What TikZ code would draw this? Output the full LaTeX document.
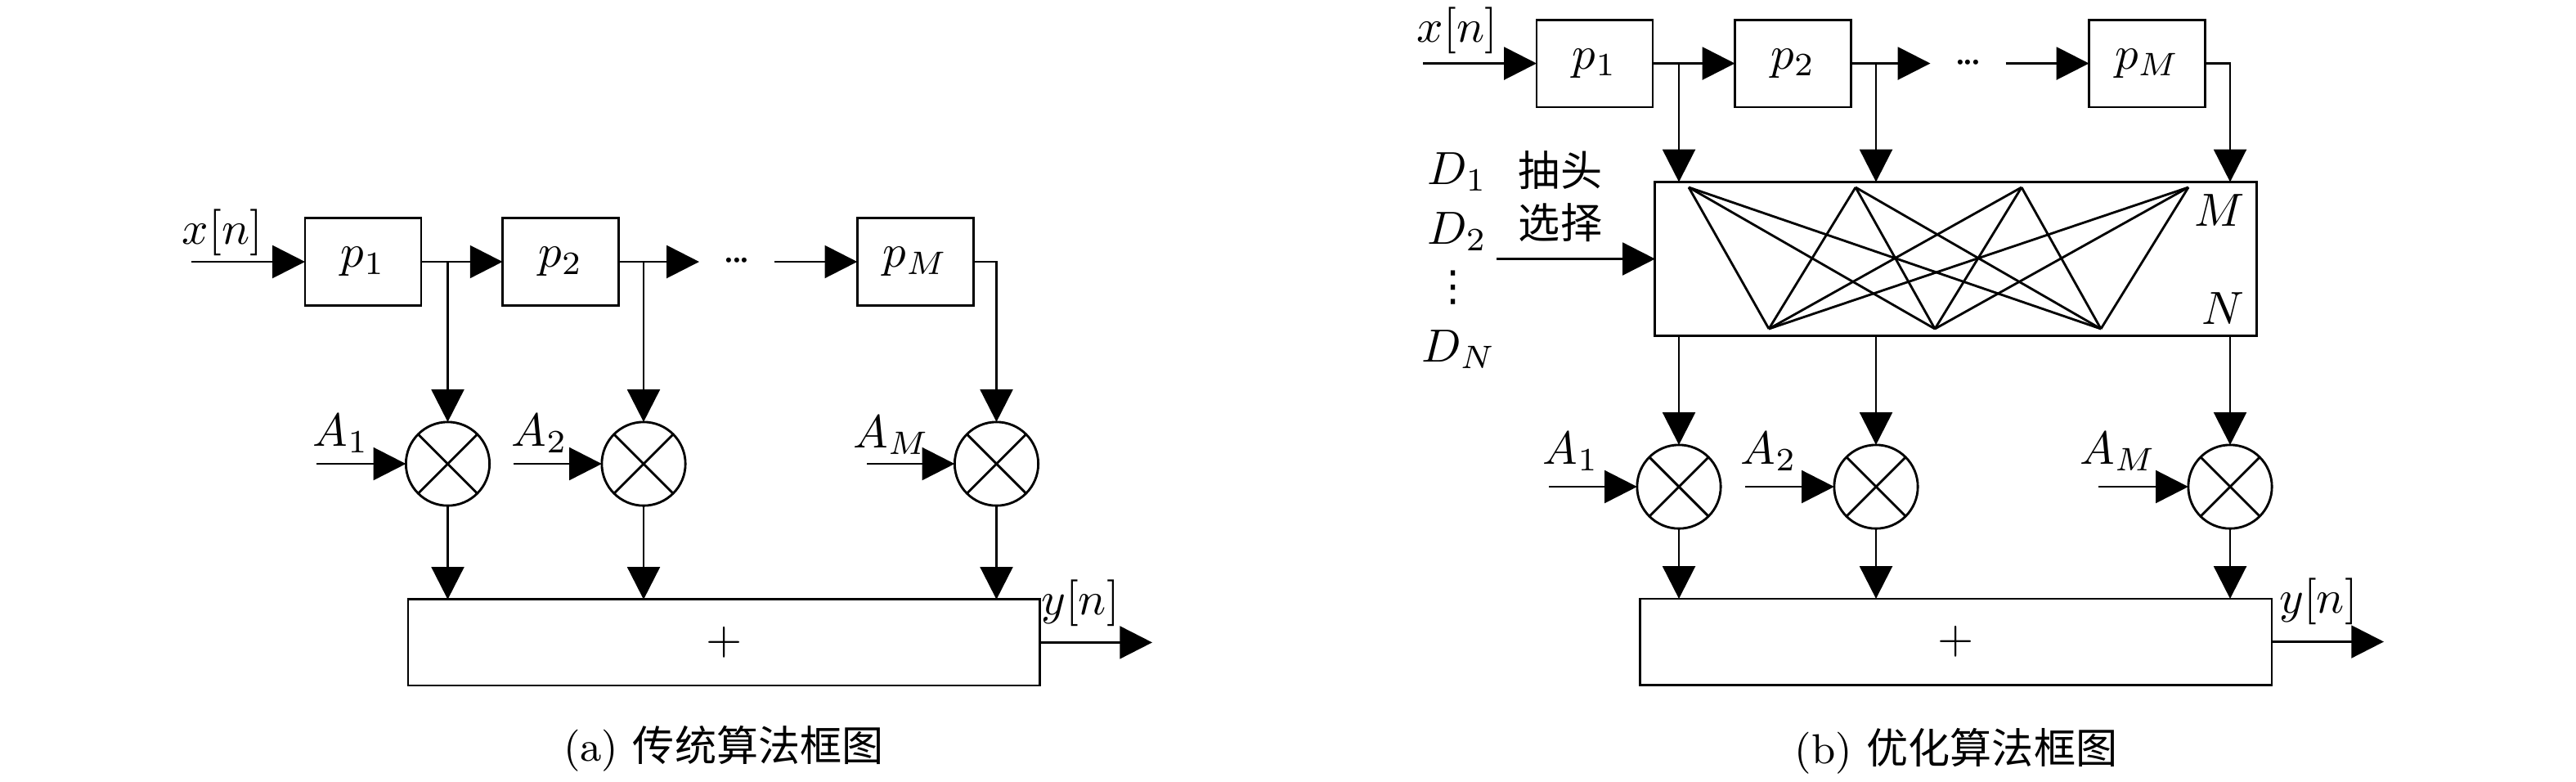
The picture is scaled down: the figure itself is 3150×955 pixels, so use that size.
\documentclass[tikz,border=0pt]{standalone}
\usepackage{fontspec}
\newfontfamily\cjk{Noto Sans CJK SC}
\newfontfamily\dejavu{DejaVu Sans}
\usetikzlibrary{arrows.meta}
\begin{document}
\begin{tikzpicture}[x=0.176pt,y=-0.176pt,
  every node/.style={inner sep=0pt, outer sep=0pt},
  every path/.style={line width=0.5pt},
  arr/.style={line width=0.5pt,-{Triangle[length=7pt,width=7pt]}},
  pbox/.style={draw, line width=0.5pt, minimum width=25pt, minimum height=18.8pt},
  mult/.style={draw, circle, line width=0.5pt, minimum size=18pt},
  sumbox/.style={draw, line width=0.5pt, minimum width=136pt, minimum height=18.5pt},
  selbox/.style={draw, line width=0.5pt, minimum width=129.4pt, minimum height=33.1pt},
  dotsnode/.style={minimum width=16.2pt},
  lbl/.style={font=\fontsize{10}{12}\selectfont},
  captext/.style={font=\fontsize{9}{11}\selectfont},
]
\useasboundingbox (0,0) rectangle (3150,955);
\newcommand\tdots{${\cdot}\mkern-2mu{\cdot}\mkern-2mu{\cdot}$}

% ---------------- (a) ----------------
\node[pbox] (a1) at (444,320) {$p_1$};
\node[pbox] (a2) at (685.6,320) {$p_2$};
\node[dotsnode] (adots) at (901,320) {\tdots};
\node[pbox] (aM) at (1119.3,320) {$p_M$};
\coordinate (ain) at (234,320);
\node[lbl] (axn) at (272,284) {$x[n]$};
\draw[arr] (ain) -- (a1);
\draw[arr] (a1) -- (a2);
\draw[arr] (a2) -- (adots);
\draw[arr] (adots) -- (aM);

\node[mult] (am1) at (547.5,567) {};
\node[mult] (am2) at (787,567) {};
\node[mult] (amM) at (1218.5,567) {};
\foreach \m in {am1,am2,amM}
  \draw (\m.north east) -- (\m.south west) (\m.north west) -- (\m.south east);

\draw[arr] (a1.east -| am1) -- (am1);
\draw[arr] (a2.east -| am2) -- (am2);
\draw[arr] (aM.east) -| (amM);

\coordinate (aA1) at (387,567);
\coordinate (aA2) at (628,567);
\coordinate (aAM) at (1060,567);
\draw[arr] (aA1) -- (am1);
\draw[arr] (aA2) -- (am2);
\draw[arr] (aAM) -- (amM);
\node[lbl] (aLA1) at (417,530) {$A_1$};
\node[lbl] (aLA2) at (660,530) {$A_2$};
\node[lbl] (aLAM) at (1090,532) {$A_M$};

\node[sumbox] (asum) at (885.3,785.4) {$+$};
\draw[arr] (am1) -- (am1 |- asum.north);
\draw[arr] (am2) -- (am2 |- asum.north);
\draw[arr] (amM) -- (amM |- asum.north);
\coordinate (aout) at (1409,785.4);
\draw[arr] (asum.east) -- (aout);
\node[lbl] (ayn) at (1321,737) {$y[n]$};

\node[captext] (acap) at (885,915) {(a) {\cjk 传统算法框图}};

% ---------------- (b) ----------------
\node[pbox] (b1) at (1950,77.5) {$p_1$};
\node[pbox] (b2) at (2192.5,77.5) {$p_2$};
\node[dotsnode] (bdots) at (2406.5,77.5) {\tdots};
\node[pbox] (bM) at (2625.5,77.5) {$p_M$};
\coordinate (bin) at (1740,77.5);
\node[lbl] (bxn) at (1782,37) {$x[n]$};
\draw[arr] (bin) -- (b1);
\draw[arr] (b1) -- (b2);
\draw[arr] (b2) -- (bdots);
\draw[arr] (bdots) -- (bM);

\node[selbox] (sel) at (2391.5,316.5) {};
\coordinate (t1) at (2065,229);
\coordinate (t2) at (2269,229);
\coordinate (t3) at (2472,229);
\coordinate (t4) at (2676,229);
\coordinate (u1) at (2163,402);
\coordinate (u2) at (2366,402);
\coordinate (u3) at (2569,402);
\foreach \i in {1,2,3,4}
  \foreach \j in {1,2,3}
    \draw (t\i) -- (u\j);
\node[lbl] (bML) at (2714,257) {$M$};
\node[lbl] (bNL) at (2718,377) {$N$};

\node[mult] (bm1) at (2053,595) {};
\node[mult] (bm2) at (2294,595) {};
\node[mult] (bmM) at (2727,595) {};
\foreach \m in {bm1,bm2,bmM}
  \draw (\m.north east) -- (\m.south west) (\m.north west) -- (\m.south east);

\draw[arr] (b1.east -| bm1) -- (bm1 |- sel.north);
\draw[arr] (b2.east -| bm2) -- (bm2 |- sel.north);
\draw[arr] (bM.east) -| (bmM |- sel.north);
\draw[arr] (bm1 |- sel.south) -- (bm1);
\draw[arr] (bm2 |- sel.south) -- (bm2);
\draw[arr] (bmM |- sel.south) -- (bmM);

\node[lbl] (bD1) at (1782,210) {$D_1$};
\node[lbl] (bD2) at (1782,283) {$D_2$};
\node[font=\fontsize{9}{10}\selectfont] (bDv) at (1777,352) {\dejavu ⋮};
\node[lbl] (bDN) at (1784,427) {$D_N$};
\node[captext] (bsel1) at (1908,208) {\cjk 抽头};
\node[captext] (bsel2) at (1908,272) {\cjk 选择};
\coordinate (din) at (1830,316.5);
\draw[arr] (din) -- (sel);

\coordinate (bA1) at (1894,595);
\coordinate (bA2) at (2134,595);
\coordinate (bAM) at (2566,595);
\draw[arr] (bA1) -- (bm1);
\draw[arr] (bA2) -- (bm2);
\draw[arr] (bAM) -- (bmM);
\node[lbl] (bLA1) at (1921,552) {$A_1$};
\node[lbl] (bLA2) at (2163,552) {$A_2$};
\node[lbl] (bLAM) at (2590,552) {$A_M$};

\node[sumbox] (bsum) at (2391.5,784.5) {$+$};
\draw[arr] (bm1) -- (bm1 |- bsum.north);
\draw[arr] (bm2) -- (bm2 |- bsum.north);
\draw[arr] (bmM) -- (bmM |- bsum.north);
\coordinate (bout) at (2915,784.5);
\draw[arr] (bsum.east) -- (bout);
\node[lbl] (byn) at (2835,735) {$y[n]$};

\node[captext] (bcap) at (2392,918) {(b) {\cjk 优化算法框图}};
\end{tikzpicture}
\end{document}
